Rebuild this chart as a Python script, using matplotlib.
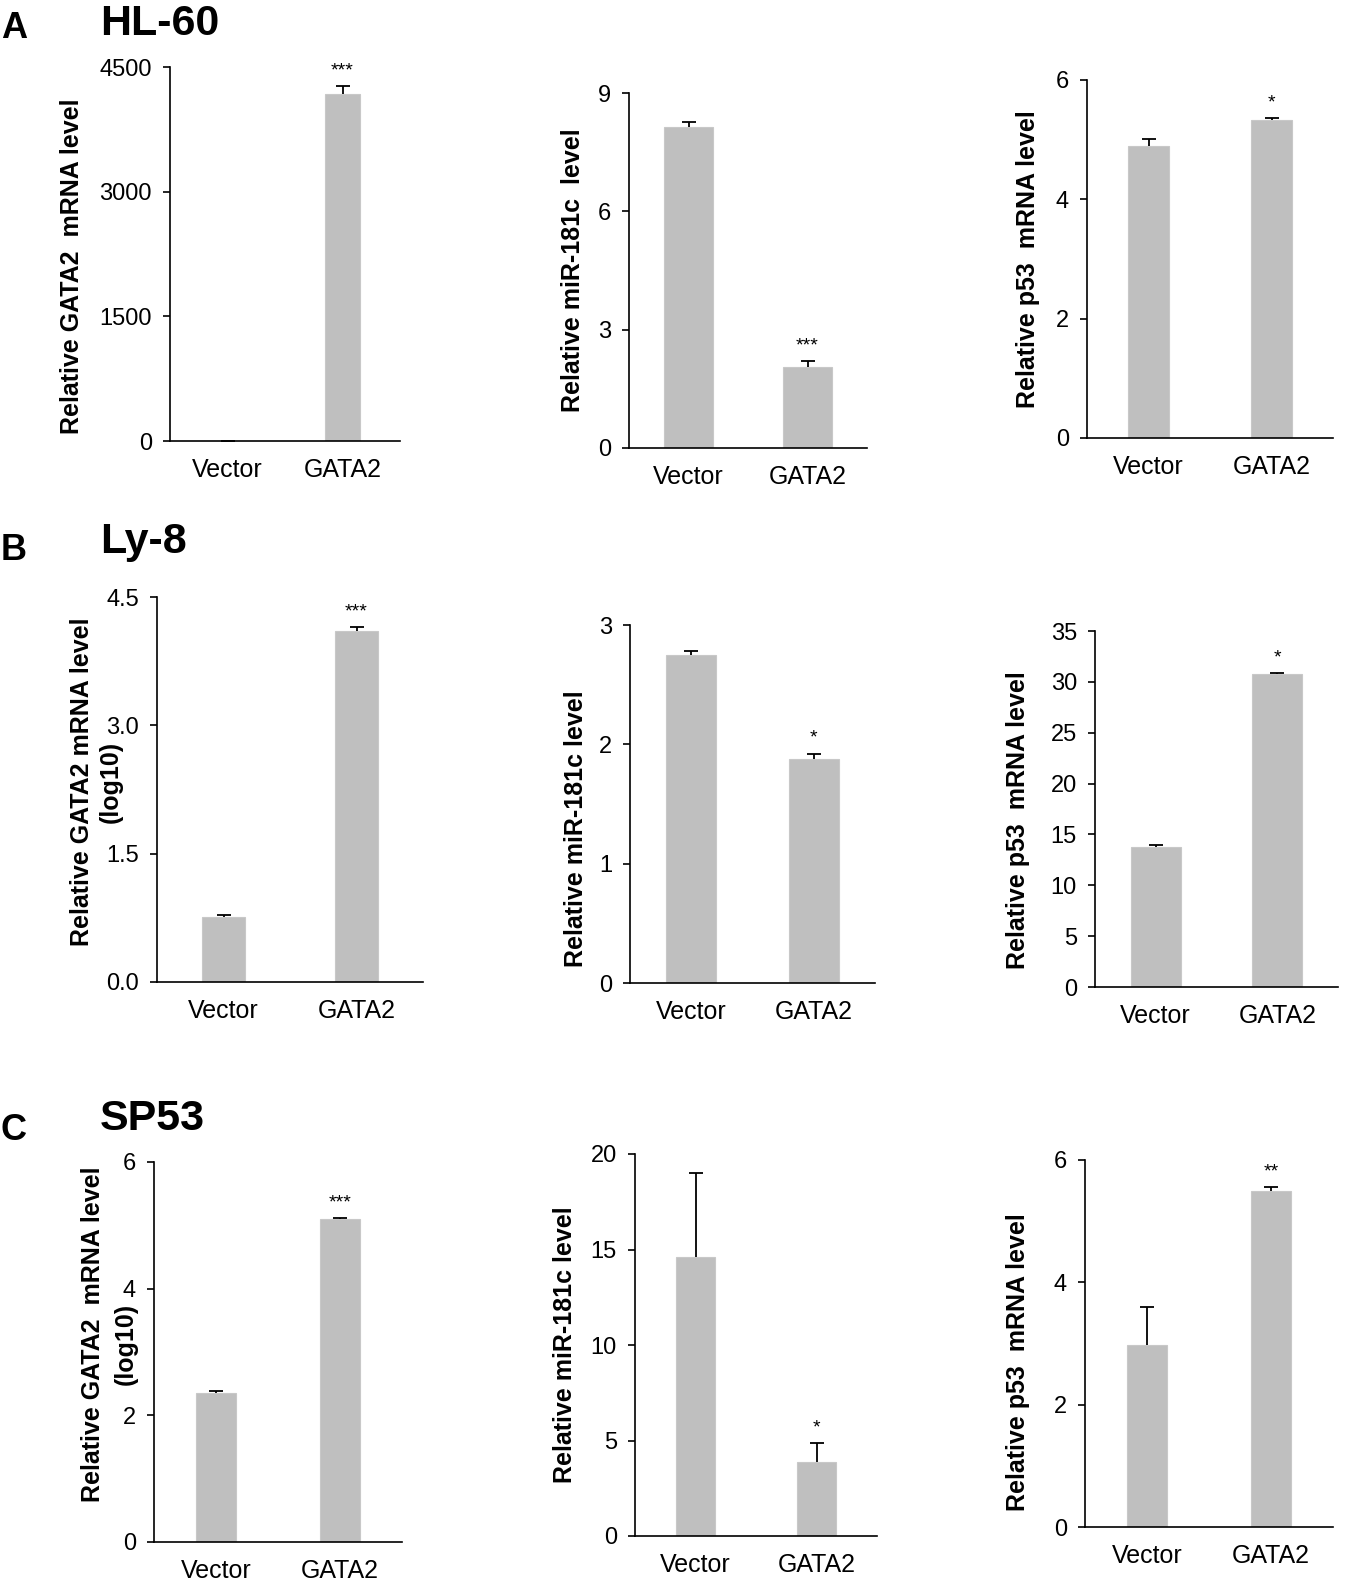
import matplotlib
matplotlib.use('Agg')
import matplotlib.pyplot as plt

plt.rcParams['font.family'] = ['Liberation Sans', 'DejaVu Sans']

W, H = 1346, 1585

letters = ['A', 'B', 'C']
cell_lines = ['HL-60', 'Ly-8', 'SP53']
groups = ['Vector', 'GATA2']

# rows: HL-60, Ly-8, SP53 ; columns: GATA2, miR-181c, p53
means = [
    [[1, 4180], [8.14, 2.05], [4.89, 5.33]],
    [[0.76, 4.10], [2.75, 1.88], [13.76, 30.77]],
    [[2.35, 5.10], [14.6, 3.87], [2.98, 5.49]],
]
errs = [
    [[0, 90], [0.12, 0.15], [0.12, 0.03]],
    [[0.02, 0.05], [0.03, 0.04], [0.2, 0.1]],
    [[0.03, 0.01], [4.4, 1.0], [0.62, 0.07]],
]
stars = [
    [['', '***'], ['', '***'], ['', '*']],
    [['', '***'], ['', '*'], ['', '*']],
    [['', '***'], ['', '*'], ['', '**']],
]
yticks = [
    [[0, 1500, 3000, 4500], [0, 3, 6, 9], [0, 2, 4, 6]],
    [[0.0, 1.5, 3.0, 4.5], [0, 1, 2, 3], [0, 5, 10, 15, 20, 25, 30, 35]],
    [[0, 2, 4, 6], [0, 5, 10, 15, 20], [0, 2, 4, 6]],
]
ylabels = [
    ['Relative GATA2  mRNA level', 'Relative miR-181c  level', 'Relative p53  mRNA level'],
    ['Relative GATA2 mRNA level', 'Relative miR-181c level', 'Relative p53  mRNA level'],
    ['Relative GATA2  mRNA level', 'Relative miR-181c level', 'Relative p53  mRNA level'],
]
ylabel2 = ['', '(log10)', '(log10)']

# layout in pixels: x0, x1, ytop, ybottom
boxes = [
    [(170, 400, 67, 441), (629, 867, 93, 448), (1087, 1333, 80, 438)],
    [(157, 423, 597, 982), (630, 875, 625, 983), (1095, 1338, 631, 987)],
    [(154, 402, 1162, 1542), (635, 877, 1154, 1536), (1085, 1333, 1160, 1527)],
]
bar_w = [[0.30, 0.41, 0.33], [0.32, 0.41, 0.41], [0.33, 0.33, 0.32]]
# ylabel centre (pixel x, axes-fraction y)
lab_pos = [
    [(72, 0.468), (573, 0.5), (1028, 0.5)],
    [(82, 0.52), (576, 0.43), (1018, 0.47)],
    [(93, 0.547), (565, 0.5), (1018, 0.45)],
]
lab2_pos = [None, (111, 0.52), (126, 0.52)]
head_y = [(38, 35), (560, 553), (1140, 1130)]

fig = plt.figure(figsize=(W / 100, H / 100), dpi=100)

for r in range(3):
    fig.text(1 / W, 1 - head_y[r][0] / H, letters[r], fontsize=26, fontweight='bold', va='baseline')
    fig.text(100 / W, 1 - head_y[r][1] / H, cell_lines[r], fontsize=31, fontweight='bold', va='baseline')
    for c in range(3):
        x0, x1, yt, yb = boxes[r][c]
        ax = fig.add_axes([x0 / W, 1 - yb / H, (x1 - x0) / W, (yb - yt) / H])
        m = means[r][c]
        e = errs[r][c]
        xs = [0, 1]
        ax.bar(xs, m, width=bar_w[r][c], color='#bfbfbf', edgecolor='#c8c8c8', linewidth=0.8, zorder=2)
        eb = ax.errorbar(xs, m, yerr=[[0, 0], e], fmt='none', ecolor='black', elinewidth=1.3,
                         capsize=5, capthick=1.3, zorder=3)
        eb[1][0].set_visible(False)  # no cap on the lower side
        for i in range(2):
            if stars[r][c][i]:
                ax.annotate(stars[r][c][i], (xs[i], m[i] + e[i]), xytext=(0, 5),
                            textcoords='offset points', ha='center', va='bottom', fontsize=14)
        ax.set_xlim(-0.5, 1.5)
        ax.set_ylim(0, yticks[r][c][-1])
        ax.set_yticks(yticks[r][c])
        if r == 1 and c == 0:
            ax.set_yticklabels(['%.1f' % v for v in yticks[r][c]])
        ax.set_xticks(xs)
        ax.set_xticklabels(groups)
        ax.spines['top'].set_visible(False)
        ax.spines['right'].set_visible(False)
        ax.spines['left'].set_linewidth(1.2)
        ax.spines['bottom'].set_linewidth(1.2)
        ax.tick_params(axis='y', direction='out', length=5, width=1.2, pad=8, labelsize=17)
        ax.tick_params(axis='x', length=0, pad=12, labelsize=18)
        ax.set_ylabel(ylabels[r][c], fontsize=18, fontweight='bold', va='center')
        lx, ly = lab_pos[r][c]
        ax.yaxis.set_label_coords((lx - x0) / (x1 - x0), ly)
        if c == 0 and ylabel2[r]:
            lx2, ly2 = lab2_pos[r]
            ax.text((lx2 - x0) / (x1 - x0), ly2, ylabel2[r], transform=ax.transAxes,
                    rotation=90, ha='center', va='center', fontsize=18, fontweight='bold')

fig.savefig('out.png', dpi=100)
